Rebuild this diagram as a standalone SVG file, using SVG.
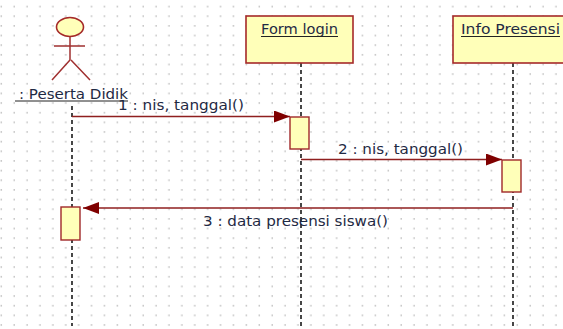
<svg xmlns="http://www.w3.org/2000/svg" width="563" height="329" viewBox="0 0 563 329">
<style>
.t{font-family:"DejaVu Sans",sans-serif;font-size:14px;fill:#1f2a44}
.b{fill:#ffffb9;stroke:#a52a2a;stroke-width:1.6}
.a{fill:#ffffb9;stroke:#a0282a;stroke-width:1.4}
.l{stroke:#1a1a1a;stroke-width:1.6;stroke-dasharray:4 3;fill:none}
.m{stroke:#8f1f1f;stroke-width:1.3;fill:none}
.s{stroke:#a03030;stroke-width:1.5;fill:none}
.u{stroke:#222;stroke-width:1}
</style>
<defs>
<pattern id="g" width="12.9" height="9.65" patternUnits="userSpaceOnUse" x="8" y="10.5"><rect x="5.5" y="5" width="1.4" height="1.4" fill="#b4b4b4"/></pattern>
<marker id="h" markerWidth="16" markerHeight="12" refX="16" refY="6" orient="auto" markerUnits="userSpaceOnUse"><path d="M0 0L16 6L0 12Z" fill="#7f0000"/></marker>
</defs>
<rect width="563" height="329" fill="#fff"/>
<rect width="563" height="329" fill="url(#g)"/>
<g id="connectors">
<line class="l" x1="72" y1="106" x2="72" y2="326"/>
<line class="l" x1="301" y1="63" x2="301" y2="326"/>
<line class="l" x1="513" y1="63" x2="513" y2="326"/>
<line class="m" x1="72" y1="116.500" x2="290" y2="116.500" marker-end="url(#h)"/>
<line class="m" x1="301" y1="159.500" x2="502" y2="159.500" marker-end="url(#h)"/>
<line class="m" x1="513" y1="208" x2="83" y2="208" marker-end="url(#h)"/>
</g>
<g id="actor">
<ellipse cx="70" cy="27" rx="13.500" ry="9.500" fill="#ffffb9" stroke="#a52a2a" stroke-width="1.600"/>
<path class="s" d="M70 37V60M54 46H85M70 60L52 80M71 60L90 80"/>
<text class="t" x="19" y="99" textLength="109" lengthAdjust="spacingAndGlyphs">: Peserta Didik</text>
<line class="u" x1="15" y1="101" x2="128" y2="101"/>
</g>
<g id="form-login">
<rect class="b" x="246" y="16" width="107" height="47"/>
<text class="t" x="261" y="34" textLength="77" lengthAdjust="spacingAndGlyphs">Form login</text>
<line class="u" x1="261" y1="36.500" x2="338" y2="36.500"/>
</g>
<g id="info-presensi">
<rect class="b" x="453" y="16" width="120" height="47"/>
<text class="t" x="461" y="34" textLength="99" lengthAdjust="spacingAndGlyphs">Info Presensi</text>
<line class="u" x1="461" y1="36.500" x2="560" y2="36.500"/>
</g>
<g id="activation-1"><rect class="a" x="290" y="117" width="19" height="32"/></g>
<g id="activation-2"><rect class="a" x="502" y="160" width="19" height="32"/></g>
<g id="activation-3"><rect class="a" x="61" y="207" width="19" height="33"/></g>
<g id="labels">
<text class="t" x="118" y="110" textLength="126" lengthAdjust="spacingAndGlyphs">1 : nis, tanggal()</text>
<text class="t" x="338" y="154" textLength="125" lengthAdjust="spacingAndGlyphs">2 : nis, tanggal()</text>
<text class="t" x="203" y="226" textLength="185" lengthAdjust="spacingAndGlyphs">3 : data presensi siswa()</text>
</g>
</svg>
